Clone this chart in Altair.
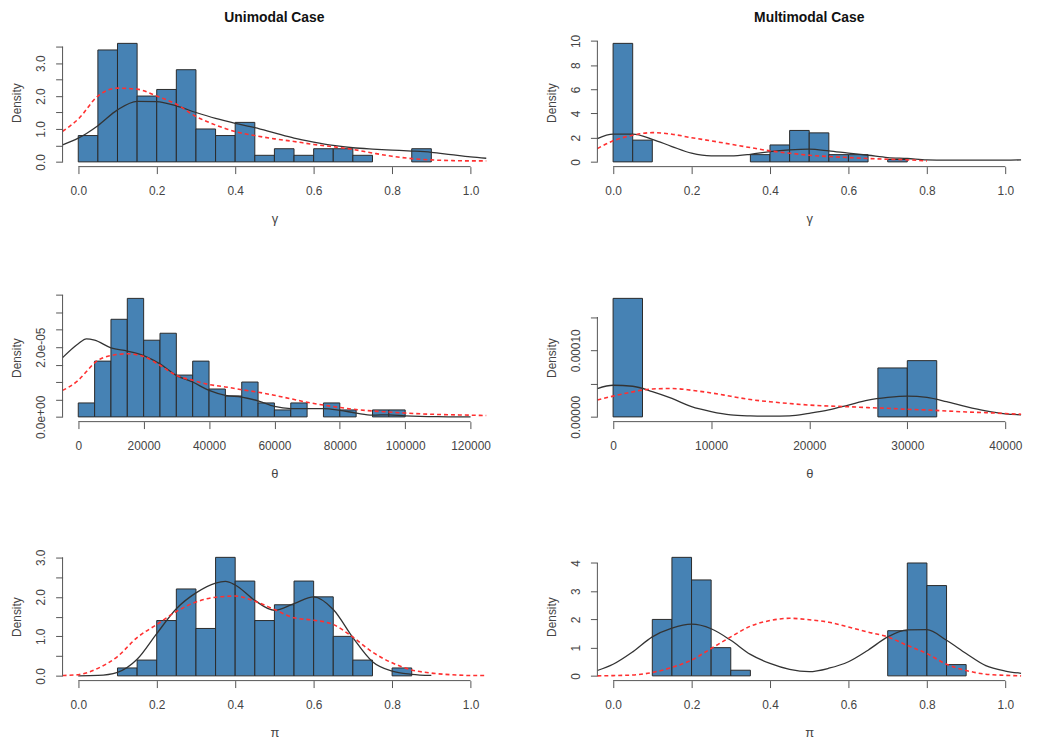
import altair as alt
import pandas as pd

FONT = "Liberation Sans"
BAR_FILL = "#4682B4"
BAR_EDGE = "#2a2a2a"
AXIS_COL = "#555555"
TEXT_COL = "#444444"
BLACK_LINE = "#333333"
RED_LINE = "#ff3030"

# ---------------- shared sample grid for the density curves on [0,1] ----------------
unit_x = [-0.04, 0.00, 0.05, 0.10, 0.15, 0.20, 0.25, 0.30, 0.35, 0.40, 0.45, 0.50,
          0.55, 0.60, 0.65, 0.70, 0.75, 0.80, 0.85, 0.90, 0.95, 1.00, 1.04]

# ---------------- gamma, unimodal ----------------
g_uni_left = [0.00, 0.05, 0.10, 0.15, 0.20, 0.25, 0.30, 0.35, 0.40, 0.45, 0.50, 0.55,
              0.60, 0.65, 0.70, 0.85]
g_uni_dens = [0.8, 3.4, 3.6, 2.0, 2.2, 2.8, 1.0, 0.8, 1.2, 0.2, 0.4, 0.2, 0.4, 0.4, 0.2, 0.4]
g_uni_black = [0.52, 0.72, 1.10, 1.58, 1.84, 1.83, 1.70, 1.50, 1.32, 1.17, 1.04, 0.88,
               0.72, 0.60, 0.50, 0.43, 0.39, 0.36, 0.33, 0.29, 0.22, 0.15, 0.11]
g_uni_red = [0.93, 1.30, 2.00, 2.24, 2.21, 2.00, 1.75, 1.38, 1.12, 0.92, 0.80, 0.70,
             0.62, 0.53, 0.46, 0.38, 0.27, 0.17, 0.10, 0.06, 0.04, 0.03, 0.03]

# ---------------- gamma, multimodal ----------------
g_mul_left = [0.00, 0.05, 0.35, 0.40, 0.45, 0.50, 0.55, 0.60, 0.70]
g_mul_dens = [9.8, 1.8, 0.6, 1.4, 2.6, 2.4, 0.6, 0.6, 0.2]
g_mul_black = [1.93, 2.29, 2.29, 1.87, 1.27, 0.72, 0.50, 0.50, 0.63, 0.85, 0.99, 1.05,
               0.91, 0.72, 0.55, 0.36, 0.28, 0.17, 0.14, 0.14, 0.14, 0.14, 0.17]
g_mul_red_x = [-0.04, 0.00, 0.05, 0.10, 0.15, 0.20, 0.25, 0.30, 0.35, 0.40, 0.45, 0.50,
               0.55, 0.60, 0.65, 0.70, 0.75, 0.80]
g_mul_red = [1.10, 1.74, 2.20, 2.42, 2.29, 2.00, 1.74, 1.46, 1.18, 0.91, 0.72, 0.55,
             0.44, 0.36, 0.28, 0.22, 0.17, 0.08]

# ---------------- theta, unimodal ----------------
t_uni_left = [0, 5000, 10000, 15000, 20000, 25000, 30000, 35000, 40000, 45000, 50000,
              55000, 60000, 65000, 75000, 80000, 90000, 95000]
t_uni_dens = [4.0e-6, 1.6e-5, 2.8e-5, 3.4e-5, 2.2e-5, 2.4e-5, 1.2e-5, 1.6e-5, 8.0e-6,
              6.0e-6, 1.0e-5, 4.0e-6, 2.0e-6, 4.0e-6, 4.0e-6, 2.0e-6, 2.0e-6, 2.0e-6]
t_uni_black_x = [-4800, 0, 2500, 5000, 10000, 15000, 20000, 25000, 30000, 35000, 40000,
                 45000, 50000, 55000, 60000, 65000, 70000, 75000, 80000, 85000, 90000,
                 95000, 100000, 110000, 120000]
t_uni_black = [1.70e-5, 2.10e-5, 2.24e-5, 2.20e-5, 1.98e-5, 1.89e-5, 1.76e-5, 1.52e-5,
               1.19e-5, 1.00e-5, 7.6e-6, 6.2e-6, 5.7e-6, 4.6e-6, 3.0e-6, 2.4e-6, 2.4e-6,
               2.4e-6, 1.9e-6, 1.1e-6, 5.0e-7, 6.0e-7, 3.0e-7, 5.0e-8, 0.0]
t_uni_red_x = [-4800, 0, 2500, 5000, 10000, 15000, 20000, 25000, 30000, 35000, 40000,
               45000, 50000, 55000, 60000, 65000, 70000, 75000, 80000, 85000, 90000,
               95000, 100000, 110000, 120000, 124800]
t_uni_red = [7.6e-6, 1.05e-5, 1.30e-5, 1.55e-5, 1.76e-5, 1.81e-5, 1.73e-5, 1.48e-5,
             1.19e-5, 1.05e-5, 9.3e-6, 8.6e-6, 7.8e-6, 7.1e-6, 6.2e-6, 5.2e-6, 4.2e-6,
             3.4e-6, 2.7e-6, 2.1e-6, 1.7e-6, 1.4e-6, 1.1e-6, 7.0e-7, 5.0e-7, 4.0e-7]

# ---------------- theta, multimodal ----------------
t_mul_left = [0, 27000, 30000]
t_mul_dens = [1.78e-4, 7.35e-5, 8.45e-5]
t_mul_x = [-1600, 0, 2000, 4000, 6000, 8000, 10000, 12000, 14000, 16000, 18000, 20000,
           22000, 24000, 26000, 28000, 30000, 32000, 34000, 36000, 38000, 40000, 41600]
t_mul_black = [4.26e-5, 4.75e-5, 4.6e-5, 3.8e-5, 2.77e-5, 1.53e-5, 7.9e-6, 3.0e-6, 1.5e-6,
               1.0e-6, 1.5e-6, 5.4e-6, 1.04e-5, 1.78e-5, 2.52e-5, 2.92e-5, 3.12e-5,
               2.92e-5, 2.28e-5, 1.53e-5, 8.9e-6, 4.5e-6, 3.2e-6]
t_mul_red = [2.55e-5, 3.12e-5, 3.76e-5, 4.2e-5, 4.26e-5, 4.0e-5, 3.6e-5, 3.1e-5, 2.6e-5,
             2.28e-5, 2.0e-5, 1.78e-5, 1.63e-5, 1.53e-5, 1.39e-5, 1.29e-5, 1.14e-5,
             1.04e-5, 8.9e-6, 7.4e-6, 6.4e-6, 5.0e-6, 4.0e-6]

# ---------------- pi, unimodal ----------------
p_uni_left = [0.10, 0.15, 0.20, 0.25, 0.30, 0.35, 0.40, 0.45, 0.50, 0.55, 0.60, 0.65,
              0.70, 0.80]
p_uni_dens = [0.2, 0.4, 1.4, 2.2, 1.2, 3.0, 2.4, 1.4, 1.8, 2.4, 2.0, 1.0, 0.4, 0.2]
p_uni_black_x = [0.00, 0.05, 0.10, 0.15, 0.20, 0.25, 0.30, 0.35, 0.375, 0.40, 0.45, 0.50,
                 0.55, 0.60, 0.65, 0.70, 0.75, 0.80, 0.85, 0.90]
p_uni_black = [0.00, 0.01, 0.09, 0.42, 1.07, 1.70, 2.10, 2.35, 2.39, 2.30, 1.91, 1.66,
               1.83, 2.00, 1.68, 0.97, 0.36, 0.12, 0.04, 0.01]
p_uni_red = [0.01, 0.03, 0.19, 0.49, 0.97, 1.30, 1.63, 1.87, 1.99, 2.02, 1.89, 1.68,
             1.47, 1.41, 1.30, 0.98, 0.60, 0.33, 0.15, 0.07, 0.03, 0.01, 0.01]

# ---------------- pi, multimodal ----------------
p_mul_left = [0.10, 0.15, 0.20, 0.25, 0.30, 0.70, 0.75, 0.80, 0.85]
p_mul_dens = [2.0, 4.2, 3.4, 1.0, 0.2, 1.6, 4.0, 3.2, 0.4]
p_mul_black = [0.19, 0.41, 0.85, 1.38, 1.69, 1.83, 1.67, 1.26, 0.76, 0.44, 0.23, 0.15,
               0.27, 0.50, 0.91, 1.38, 1.63, 1.64, 1.26, 0.79, 0.36, 0.17, 0.09]
p_mul_red = [0.00, 0.01, 0.03, 0.12, 0.30, 0.56, 0.97, 1.38, 1.76, 1.96, 2.04, 1.99,
             1.90, 1.73, 1.55, 1.38, 1.08, 0.79, 0.41, 0.19, 0.06, 0.02, 0.00]

# ---------------- axis ticks / labels ----------------
unit_ticks = [0.0, 0.2, 0.4, 0.6, 0.8, 1.0]
unit_labels = ["0.0", "0.2", "0.4", "0.6", "0.8", "1.0"]
t_uni_ticks = [0, 20000, 40000, 60000, 80000, 100000, 120000]
t_uni_labels = ["0", "20000", "40000", "60000", "80000", "100000", "120000"]
t_mul_ticks = [0, 10000, 20000, 30000, 40000]
t_mul_labels = ["0", "10000", "20000", "30000", "40000"]

y1_ticks = [0.0, 0.5, 1.0, 1.5, 2.0, 2.5, 3.0, 3.5]
y1_labels = ["0.0", "", "1.0", "", "2.0", "", "3.0", ""]
y2_ticks = [0, 2, 4, 6, 8, 10]
y2_labels = ["0", "2", "4", "6", "8", "10"]
y3_ticks = [0, 5e-6, 1e-5, 1.5e-5, 2e-5, 2.5e-5, 3e-5, 3.5e-5]
y3_labels = ["0.0e+00", "", "", "", "2.0e-05", "", "", ""]
y4_ticks = [0, 5e-5, 1e-4, 1.5e-4]
y4_labels = ["0.00000", "", "0.00010", ""]
y5_ticks = [0.0, 0.5, 1.0, 1.5, 2.0, 2.5, 3.0]
y5_labels = ["0.0", "", "1.0", "", "2.0", "", "3.0"]
y6_ticks = [0, 1, 2, 3, 4]
y6_labels = ["0", "1", "2", "3", "4"]

W, H = 427, 129


def label_expr(ticks, labels):
    span = max(abs(t) for t in ticks) or 1.0
    eps = span * 1e-6
    expr = "''"
    for t, l in reversed(list(zip(ticks, labels))):
        expr = f"abs(datum.value - ({t!r})) < {eps!r} ? '{l}' : ({expr})"
    return expr


def panel(left, width, dens, bx, by, rx, ry, xdom, ydom, xticks, xlabels,
          yticks, ylabels, xtitle, title=None, title_offset=12):
    xaxis = alt.Axis(values=xticks, labelExpr=label_expr(xticks, xlabels), domain=False,
                     grid=False, tickSize=7, tickColor=AXIS_COL, labelFont=FONT,
                     labelFontSize=12, labelColor=TEXT_COL, labelPadding=12,
                     labelFlush=False, labelOverlap=False, title=xtitle, titleFont=FONT,
                     titleFontSize=13, titleFontWeight="normal", titleColor=TEXT_COL,
                     titlePadding=16)
    yaxis = alt.Axis(values=yticks, labelExpr=label_expr(yticks, ylabels), domain=False,
                     grid=False, tickSize=7, tickColor=AXIS_COL, labelFont=FONT,
                     labelFontSize=12, labelColor=TEXT_COL, labelAngle=270,
                     labelAlign="center", labelBaseline="bottom", labelPadding=8,
                     labelFlush=False, labelOverlap=False, title="Density",
                     titleFont=FONT, titleFontSize=12, titleFontWeight="normal",
                     titleColor=TEXT_COL, titlePadding=11)
    xs = alt.Scale(domain=xdom, nice=False, zero=False)
    ys = alt.Scale(domain=ydom, nice=False, zero=False)
    X = alt.X("x:Q", scale=xs, axis=xaxis)
    Y = alt.Y("y:Q", scale=ys, axis=yaxis)

    bars_df = pd.DataFrame({"x": left, "x2": [l + width for l in left], "y": dens})
    bars = alt.Chart(bars_df).mark_rect(fill=BAR_FILL, stroke=BAR_EDGE, strokeWidth=1).encode(
        x=X, x2="x2:Q", y=Y, y2=alt.datum(0))
    black = alt.Chart(pd.DataFrame({"x": bx, "y": by})).mark_line(
        color=BLACK_LINE, strokeWidth=1.3, interpolate="monotone").encode(x=X, y=Y)
    red = alt.Chart(pd.DataFrame({"x": rx, "y": ry})).mark_line(
        color=RED_LINE, strokeWidth=1.6, strokeDash=[4, 3], interpolate="monotone").encode(x=X, y=Y)
    xline = alt.Chart(pd.DataFrame({"x": [xticks[0]], "x2": [xticks[-1]]})).mark_rule(
        color=AXIS_COL, strokeWidth=1).encode(x=X, x2="x2:Q", y=alt.value(H))
    yline = alt.Chart(pd.DataFrame({"y": [yticks[0]], "y2": [yticks[-1]]})).mark_rule(
        color=AXIS_COL, strokeWidth=1).encode(y=Y, y2="y2:Q", x=alt.value(0))
    ch = alt.layer(bars, black, red, xline, yline).properties(width=W, height=H)
    if title:
        ch = ch.properties(title=alt.TitleParams(title, font=FONT, fontSize=14,
                                                 fontWeight="bold", color="#111111",
                                                 anchor="middle", frame="group",
                                                 offset=title_offset))
    return ch


p1 = panel(g_uni_left, 0.05, g_uni_dens, unit_x, g_uni_black, unit_x, g_uni_red,
           [-0.04, 1.04], [-0.144, 3.744], unit_ticks, unit_labels, y1_ticks, y1_labels,
           "γ", "Unimodal Case", 14)
p2 = panel(g_mul_left, 0.05, g_mul_dens, unit_x, g_mul_black, g_mul_red_x, g_mul_red,
           [-0.04, 1.04], [-0.392, 10.192], unit_ticks, unit_labels, y2_ticks, y2_labels,
           "γ", "Multimodal Case", 9)
p3 = panel(t_uni_left, 5000, t_uni_dens, t_uni_black_x, t_uni_black, t_uni_red_x, t_uni_red,
           [-4800, 124800], [-1.36e-6, 3.536e-5], t_uni_ticks, t_uni_labels, y3_ticks,
           y3_labels, "θ")
p4 = panel(t_mul_left, 3000, t_mul_dens, t_mul_x, t_mul_black, t_mul_x, t_mul_red,
           [-1600, 41600], [-7.12e-6, 1.851e-4], t_mul_ticks, t_mul_labels, y4_ticks,
           y4_labels, "θ")
p5 = panel(p_uni_left, 0.05, p_uni_dens, p_uni_black_x, p_uni_black, unit_x, p_uni_red,
           [-0.04, 1.04], [-0.12, 3.12], unit_ticks, unit_labels, y5_ticks, y5_labels, "π")
p6 = panel(p_mul_left, 0.05, p_mul_dens, unit_x, p_mul_black, unit_x, p_mul_red,
           [-0.04, 1.04], [-0.168, 4.368], unit_ticks, unit_labels, y6_ticks, y6_labels, "π")

chart = alt.concat(p1, p2, p3, p4, p5, p6, columns=2,
                   spacing={"row": 69, "column": 54}, align="each").properties(
    padding={"left": 2, "top": 0, "right": 5, "bottom": 0},
    background="white",
).configure_view(stroke=None)

chart.save("out.html", embed_options={"renderer": "svg", "actions": False})
